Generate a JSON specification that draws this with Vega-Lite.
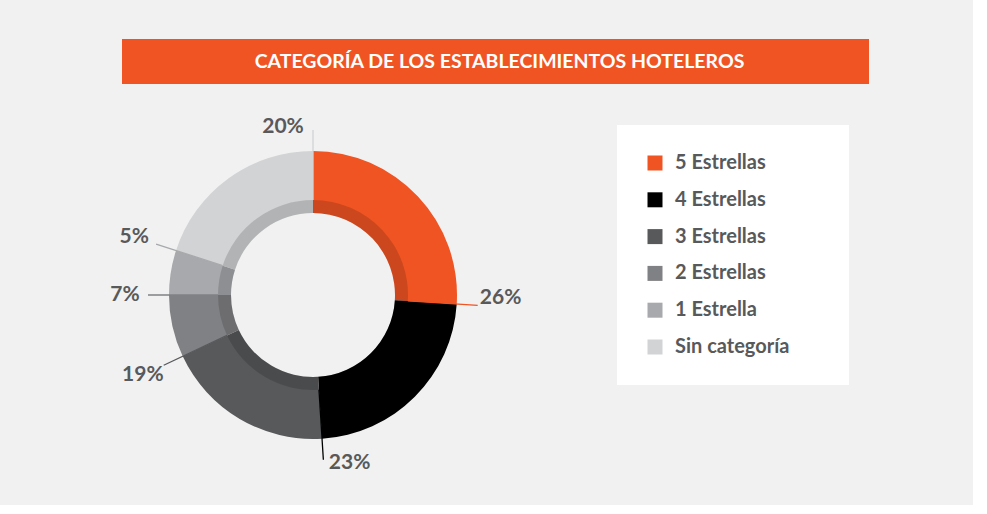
{
  "$schema": "https://vega.github.io/schema/vega-lite/v6.json",
  "background": "#F1F1F1",
  "padding": {"left": 110, "top": 39, "right": 104, "bottom": 32},
  "autosize": {"type": "pad"},
  "bounds": "flush",
  "spacing": 41,
  "resolve": {"scale": {"color": "independent"}},
  "config": {
    "view": {"stroke": null},
    "font": "Lato",
    "legend": {
      "orient": "right",
      "offset": 113,
      "padding": 28,
      "fillColor": "white",
      "strokeColor": null,
      "symbolType": "square",
      "symbolSize": 225,
      "symbolStrokeWidth": 0,
      "symbolOpacity": 1,
      "labelFont": "Lato",
      "labelFontSize": 20,
      "labelFontWeight": "bold",
      "labelColor": "#58595B",
      "labelOffset": 10,
      "rowPadding": 16.8,
      "titleOrient": "right",
      "titlePadding": 32,
      "titleColor": "white"
    }
  },
  "vconcat": [
    {
      "width": 747,
      "height": 45,
      "view": {"fill": "#F05423", "stroke": null},
      "data": {"values": [{"titulo": "CATEGORÍA DE LOS ESTABLECIMIENTOS HOTELEROS"}]},
      "mark": {"type": "text", "color": "white", "fontSize": 19.5, "fontWeight": "bold", "font": "Lato", "baseline": "middle", "align": "center", "dx": 4},
      "encoding": {"text": {"field": "titulo", "type": "nominal"}}
    },
    {
      "width": 382,
      "height": 340,
      "data": {"values": [
        {"categoria": "5 Estrellas", "pct": 0.26, "orden": 1},
        {"categoria": "4 Estrellas", "pct": 0.23, "orden": 2},
        {"categoria": "3 Estrellas", "pct": 0.19, "orden": 3},
        {"categoria": "2 Estrellas", "pct": 0.07, "orden": 4},
        {"categoria": "1 Estrella", "pct": 0.05, "orden": 5},
        {"categoria": "Sin categoría", "pct": 0.20, "orden": 6}
      ]},
      "transform": [
        {"window": [{"op": "sum", "field": "pct", "as": "acum"}], "sort": [{"field": "orden"}]}
      ],
      "encoding": {
        "color": {
          "field": "categoria",
          "type": "nominal",
          "scale": {
            "domain": ["5 Estrellas", "4 Estrellas", "3 Estrellas", "2 Estrellas", "1 Estrella", "Sin categoría"],
            "range": ["#F05423", "#000000", "#58595B", "#808184", "#A7A9AC", "#D1D3D4"]
          },
          "legend": {"title": "\u00a0"}
        }
      },
      "layer": [
        {
          "mark": {"type": "arc", "radius": 144, "radius2": 82},
          "encoding": {
            "theta": {"field": "pct", "type": "quantitative", "stack": true, "scale": {"domain": [0, 1]}},
            "order": {"field": "orden", "type": "quantitative"}
          }
        },
        {
          "mark": {"type": "arc", "radius": 95, "radius2": 82, "opacity": 0.15},
          "encoding": {
            "theta": {"field": "pct", "type": "quantitative", "stack": true, "scale": {"domain": [0, 1]}},
            "order": {"field": "orden", "type": "quantitative"},
            "detail": {"field": "categoria", "type": "nominal"},
            "color": {"value": "#000000"}
          }
        },
        {
          "mark": {"type": "arc", "filled": false, "radius": 165, "radius2": 95, "strokeWidth": 1.3},
          "encoding": {
            "theta": {"field": "acum", "type": "quantitative", "stack": null, "scale": {"domain": [0, 1]}},
            "theta2": {"field": "acum"}
          }
        },
        {
          "transform": [{"filter": "datum.categoria === '3 Estrellas' || datum.categoria === '2 Estrellas' || datum.categoria === '1 Estrella'"}],
          "mark": {"type": "text", "radius": 188, "fontSize": 21, "fontWeight": "bold", "font": "Lato", "align": "center", "baseline": "middle"},
          "encoding": {
            "theta": {"field": "acum", "type": "quantitative", "stack": null, "scale": {"domain": [0, 1]}},
            "text": {"field": "pct", "type": "quantitative", "format": ".0%"},
            "color": {"value": "#58595B"}
          }
        },
        {
          "transform": [{"filter": "datum.categoria === '5 Estrellas'"}],
          "mark": {"type": "text", "radius": 188, "dy": -9, "fontSize": 21, "fontWeight": "bold", "font": "Lato", "align": "center", "baseline": "middle"},
          "encoding": {
            "theta": {"field": "acum", "type": "quantitative", "stack": null, "scale": {"domain": [0, 1]}},
            "text": {"field": "pct", "type": "quantitative", "format": ".0%"},
            "color": {"value": "#58595B"}
          }
        },
        {
          "transform": [{"filter": "datum.categoria === '4 Estrellas'"}],
          "mark": {"type": "text", "radius": 168, "dx": 26, "fontSize": 21, "fontWeight": "bold", "font": "Lato", "align": "center", "baseline": "middle"},
          "encoding": {
            "theta": {"field": "acum", "type": "quantitative", "stack": null, "scale": {"domain": [0, 1]}},
            "text": {"field": "pct", "type": "quantitative", "format": ".0%"},
            "color": {"value": "#58595B"}
          }
        },
        {
          "transform": [{"filter": "datum.categoria === 'Sin categoría'"}],
          "mark": {"type": "text", "radius": 168, "dx": -30, "fontSize": 21, "fontWeight": "bold", "font": "Lato", "align": "center", "baseline": "middle"},
          "encoding": {
            "theta": {"field": "acum", "type": "quantitative", "stack": null, "scale": {"domain": [0, 1]}},
            "text": {"field": "pct", "type": "quantitative", "format": ".0%"},
            "color": {"value": "#58595B"}
          }
        }
      ]
    }
  ]
}
